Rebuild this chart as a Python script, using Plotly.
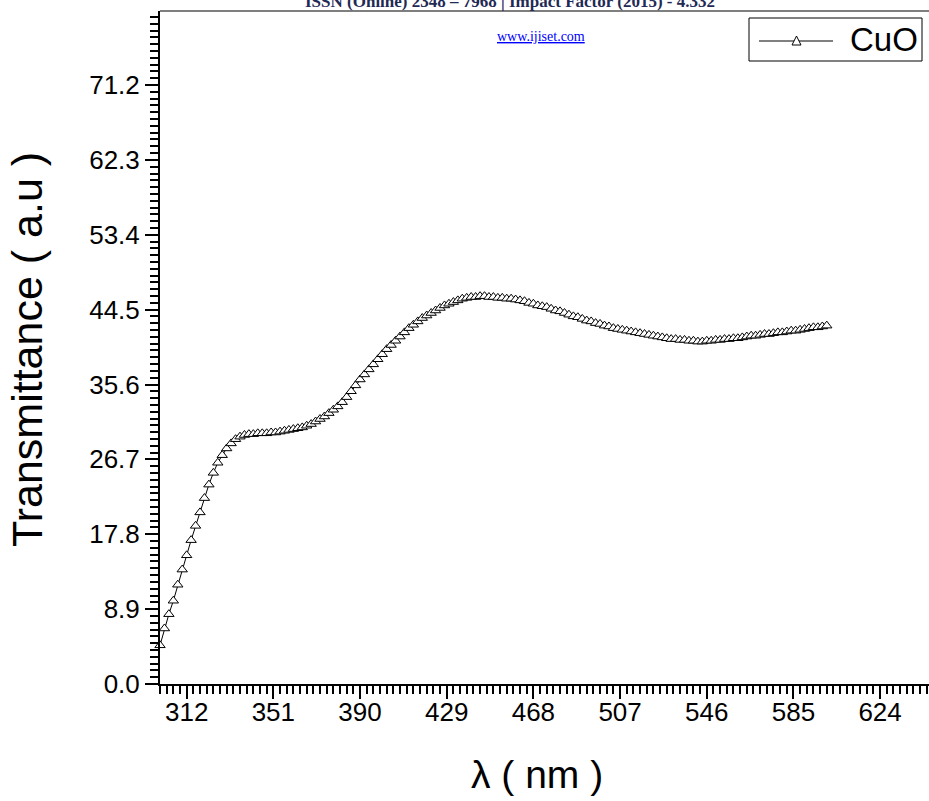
import plotly.graph_objects as go

wavelength = list(range(300, 601, 2))
transmittance = [
    4.6, 6.6, 8.3, 9.9, 11.8, 13.6, 15.3, 17.1, 18.8, 20.4,
    22.1, 23.7, 25.1, 26.3, 27.2, 28.0, 28.6, 29.1, 29.4, 29.6,
    29.7, 29.7, 29.8, 29.8, 29.8, 29.9, 29.9, 30.0, 30.1, 30.2,
    30.3, 30.4, 30.5, 30.7, 30.9, 31.2, 31.5, 31.8, 32.2, 32.6,
    33.0, 33.5, 34.1, 34.8, 35.5, 36.2, 36.8, 37.4, 38.0, 38.6,
    39.2, 39.8, 40.3, 40.8, 41.3, 41.8, 42.3, 42.7, 43.1, 43.5,
    43.8, 44.1, 44.4, 44.7, 45.0, 45.2, 45.4, 45.6, 45.8, 45.9,
    46.0, 46.0, 46.1, 46.1, 46.0, 46.0, 45.9, 45.9, 45.8, 45.8,
    45.7, 45.6, 45.5, 45.3, 45.2, 45.0, 44.9, 44.8, 44.6, 44.4,
    44.3, 44.1, 43.9, 43.7, 43.6, 43.4, 43.2, 43.1, 42.9, 42.8,
    42.6, 42.5, 42.3, 42.2, 42.1, 42.0, 41.9, 41.8, 41.7, 41.6,
    41.5, 41.4, 41.3, 41.2, 41.1, 41.0, 41.0, 40.9, 40.9, 40.8,
    40.8, 40.7, 40.7, 40.8, 40.8, 40.9, 40.9, 41.0, 41.0, 41.1,
    41.1, 41.2, 41.3, 41.4, 41.4, 41.5, 41.6, 41.6, 41.7, 41.8,
    41.8, 41.9, 42.0, 42.0, 42.1, 42.2, 42.3, 42.4, 42.4, 42.5,
    42.6,
]
x_ticks = [312, 351, 390, 429, 468, 507, 546, 585, 624]
y_ticks = [0.0, 8.9, 17.8, 26.7, 35.6, 44.5, 53.4, 62.3, 71.2]
y_tick_text = ["0.0", "8.9", "17.8", "26.7", "35.6", "44.5", "53.4", "62.3", "71.2"]
series_name = "CuO"

W, H = 929, 801
L, R, T, B = 160, 0, 11, 117
PW, PH = W - L - R, H - T - B


def px(xp):
    return (xp - L) / PW


def py(yp):
    return (H - B - yp) / PH


SANS = "Liberation Sans, Arial, sans-serif"
SERIF = "Liberation Serif, Times New Roman, serif"

fig = go.Figure()
fig.add_trace(go.Scatter(
    x=wavelength, y=transmittance, mode="lines+markers", name=series_name,
    line=dict(color="black", width=1),
    marker=dict(symbol="triangle-up", size=9, color="white",
                line=dict(color="black", width=1)),
    cliponaxis=False, showlegend=False,
))

axis_font = dict(family=SANS, size=26, color="black")
fig.update_layout(
    width=W, height=H,
    margin=dict(l=L, r=R, t=T, b=B),
    paper_bgcolor="white", plot_bgcolor="white",
    showlegend=False,
    xaxis=dict(
        range=[300, 646], tickvals=x_ticks, ticktext=[str(v) for v in x_ticks],
        showgrid=False, zeroline=False, showline=True, linecolor="black", linewidth=2,
        ticks="outside", ticklen=13, tickwidth=2, tickcolor="black",
        minor=dict(dtick=3, tick0=300, ticks="outside", ticklen=8, tickwidth=2, tickcolor="black"),
        tickfont=axis_font, automargin=False, ticklabelstandoff=-9,
    ),
    yaxis=dict(
        range=[0, 80], tickvals=y_ticks, ticktext=y_tick_text,
        showgrid=False, zeroline=False, showline=True, linecolor="black", linewidth=2,
        ticks="outside", ticklen=13, tickwidth=2, tickcolor="black",
        minor=dict(dtick=8.9 / 11, tick0=0, ticks="outside", ticklen=8, tickwidth=2, tickcolor="black"),
        tickfont=axis_font, automargin=False,
    ),
    shapes=[
        dict(type="line", xref="paper", yref="paper", x0=0, x1=1, y0=1, y1=1,
             line=dict(color="#7f7f7f", width=2)),
        # legend frame
        dict(type="rect", xref="paper", yref="paper", x0=px(749), x1=px(922), y0=py(61), y1=py(18),
             line=dict(color="black", width=1), fillcolor="white"),
        dict(type="line", xref="paper", yref="paper", x0=px(759), x1=px(833), y0=py(41), y1=py(41),
             line=dict(color="black", width=1)),
        dict(type="path", xref="paper", yref="paper",
             path=f"M {px(792)} {py(45)} L {px(801)} {py(45)} L {px(796.5)} {py(36)} Z",
             line=dict(color="black", width=1), fillcolor="white"),
    ],
    annotations=[
        dict(text="<b>ISSN (Online) 2348 – 7968 | Impact Factor (2015) - 4.332</b>",
             xref="paper", yref="paper", x=px(510), y=py(1),
             xanchor="center", yanchor="middle", showarrow=False,
             font=dict(family=SERIF, size=17, color="#1f2a55")),
        dict(text="<u>www.ijiset.com</u>",
             xref="paper", yref="paper", x=px(541), y=py(37),
             xanchor="center", yanchor="middle", showarrow=False,
             font=dict(family=SERIF, size=14, color="#0000ff")),
        dict(text=series_name, xref="paper", yref="paper", x=px(884), y=py(40),
             xanchor="center", yanchor="middle", showarrow=False,
             font=dict(family=SANS, size=33, color="black")),
        dict(text="Transmittance ( a.u )", xref="paper", yref="paper", x=px(27), y=py(350),
             xanchor="center", yanchor="middle", showarrow=False, textangle=-90,
             font=dict(family=SANS, size=43, color="black")),
        dict(text="λ ( nm )", xref="paper", yref="paper", x=px(537), y=py(774),
             xanchor="center", yanchor="middle", showarrow=False,
             font=dict(family=SANS, size=39, color="black")),
    ],
)

fig.write_html("out.html", config={"displayModeBar": False},
               post_script="document.body.style.margin='0';document.body.style.padding='0';")
